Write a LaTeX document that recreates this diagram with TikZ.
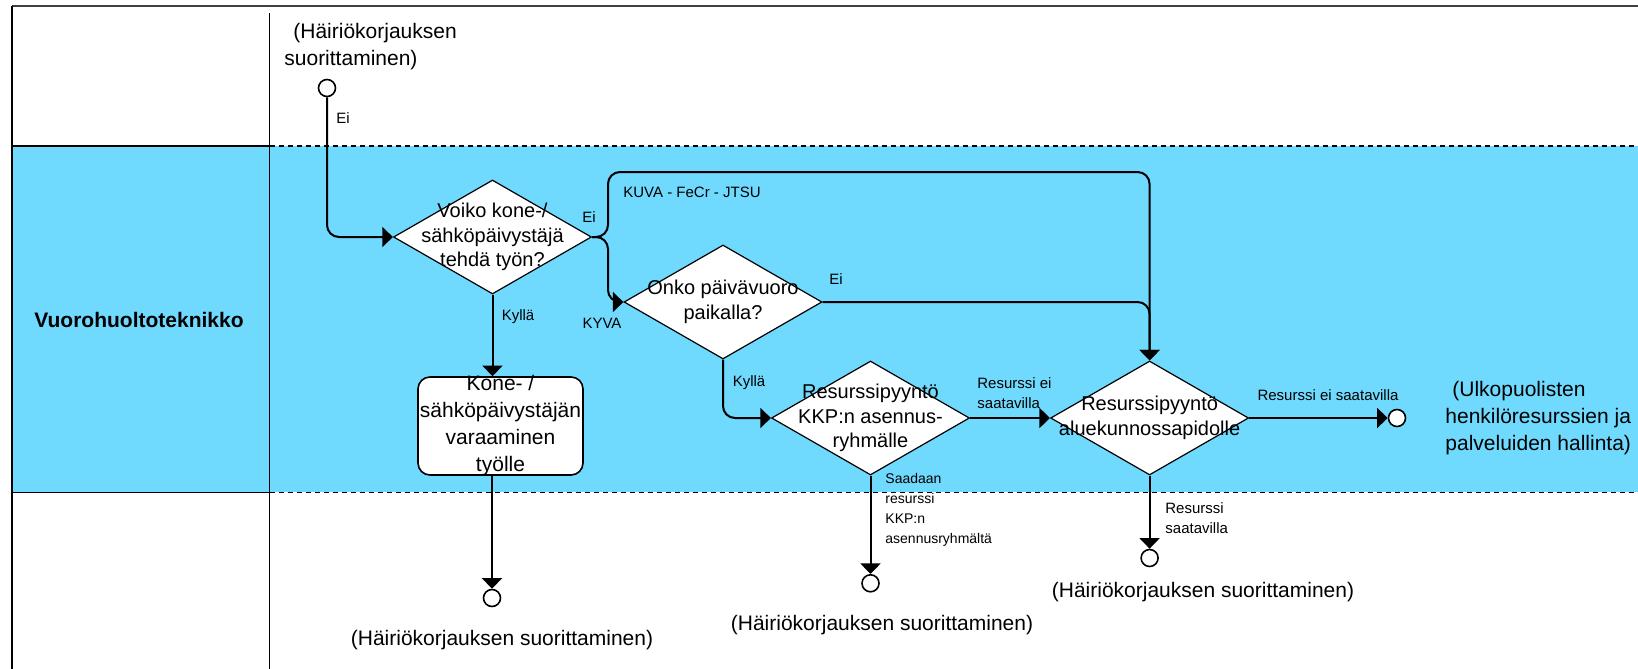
\documentclass[tikz,border=0pt]{standalone}
\usepackage{fontspec}
\setmainfont{Liberation Sans}
\usetikzlibrary{arrows.meta,shapes.geometric}
\definecolor{lane}{RGB}{112,217,254}
\begin{document}
\begin{tikzpicture}[x=0.5pt,y=-0.5pt,
  conn/.style={line width=1pt, -{Triangle[length=5.3pt,width=10pt]}, rounded corners=6pt},
  dia/.style={diamond, draw, fill=white, line width=0.6pt, inner sep=0pt, minimum width=99pt, minimum height=57pt},
  dtext/.style={align=center, font=\fontsize{10}{12.3}\selectfont, inner sep=0pt},
  endc/.style={circle, draw, fill=white, line width=0.8pt, minimum size=8.5pt, inner sep=0pt},
  small/.style={font=\fontsize{7.5}{10}\selectfont, inner sep=0pt, align=left},
  big/.style={font=\fontsize{10.5}{13.5}\selectfont, inner sep=0pt, align=left},
  frame/.style={line width=0.8pt},
  lanedash/.style={line width=0.8pt, dash pattern=on 2.5pt off 2pt}]
\useasboundingbox (0,0) rectangle (1638,669);
\fill[white] (0,0) rectangle (1638,669);
\fill[lane] (12,145.7) rectangle (1638,492.3);
\draw[line width=1.2pt, black!75] (12,5.7) -- (1638,5.7);
\draw[frame] (12,5.7) -- (12,669);
\draw[frame] (269.5,13) -- (269.5,669);
\draw[frame] (12,145.7) -- (269.5,145.7);
\draw[frame] (12,492.3) -- (269.5,492.3);
\draw[lanedash] (269.5,145.7) -- (1638,145.7);
\draw[lanedash] (269.5,492.3) -- (1638,492.3);

\node[font=\bfseries\fontsize{10.5}{12}\selectfont, inner sep=0pt] (lane1) at (139,320) {Vuorohuoltoteknikko};

% start
\node[endc] (s0) at (327,88) {};
\node[big, anchor=west] (s0t) at (284,46.5) {\hspace*{4.5pt}(Häiriökorjauksen\\suorittaminen)};

% decisions
\node[dia, label={[dtext]center:{Voiko kone-/\\sähköpäivystäjä\\tehdä työn?}}] (d1) at (492.5,237) {};
\node[dia, label={[dtext]center:{Onko päivävuoro\\paikalla?}}] (d2) at (723,302) {};
\node[dia, label={[dtext]center:{Resurssipyyntö\\KKP:n asennus-\\ryhmälle}}] (d3) at (870.5,418) {};
\node[dia, label={[dtext]center:{Resurssipyyntö\\aluekunnossapidolle}}] (d4) at (1149.6,418) {};

\node[draw, fill=white, rounded corners=6pt, line width=0.8pt, minimum width=82.5pt, minimum height=49pt, inner sep=0pt,
  label={[dtext, font=\fontsize{10.5}{13.5}\selectfont]center:{Kone- /\\sähköpäivystäjän\\varaaminen\\työlle}}] (box) at (500.5,426) {};

% ends
\node[endc] (e1) at (492,598) {};
\node[endc] (e2) at (870.5,583.3) {};
\node[endc] (e3) at (1397,418) {};
\node[endc] (e4) at (1149.6,558) {};
\node[big] (e1t) at (502,640) {(Häiriökorjauksen suorittaminen)};
\node[big] (e2t) at (882,625) {(Häiriökorjauksen suorittaminen)};
\node[big] (e4t) at (1203,592) {(Häiriökorjauksen suorittaminen)};
\node[big, anchor=west, font=\fontsize{10.5}{13.3}\selectfont] (e3t) at (1445,418) {\hspace*{3.5pt}(Ulkopuolisten\\henkilöresurssien ja\\palveluiden hallinta)};

% connectors
\coordinate (sp) at (608,237);
\coordinate (tp) at (608,172);
\draw[conn] (s0.south) |- (d1.west);
\draw[conn] (d1.east) -- (sp) -- (tp) -| (d4.north);
\draw[conn] (d1.east) -- (sp) |- (d2.west);
\draw[conn] (d1.south) -- (d1.south |- box.north);
\draw[conn] (box.south -| e1) -- (e1.north);
\draw[conn] (d2.east) -| (d4.north);
\draw[conn] (d2.south) |- (d3.west);
\draw[conn] (d3.east) -- (d4.west);
\draw[conn] (d3.south) -- (e2.north);
\draw[conn] (d4.east) -- (e3.west);
\draw[conn] (d4.south) -- (e4.north);

% labels
\node[small, anchor=west] (l1) at (336,118) {Ei};
\node[small] (l2) at (589,217) {Ei};
\node[small, anchor=west] (l3) at (623,192) {KUVA - FeCr - JTSU};
\node[small] (l4) at (602,323) {KYVA};
\node[small] (l5) at (518,317) {Kyllä};
\node[small] (l6) at (836,279) {Ei};
\node[small] (l7) at (749,383) {Kyllä};
\node[small, anchor=west] (l8) at (977,393) {Resurssi ei\\saatavilla};
\node[small, anchor=west, font=\fontsize{7}{10}\selectfont] (l9) at (885,510) {Saadaan\\resurssi\\KKP:n\\asennusryhmältä};
\node[small] (l10) at (1328,395) {Resurssi ei saatavilla};
\node[small, anchor=west] (l11) at (1165,518) {Resurssi\\saatavilla};
\end{tikzpicture}
\end{document}
